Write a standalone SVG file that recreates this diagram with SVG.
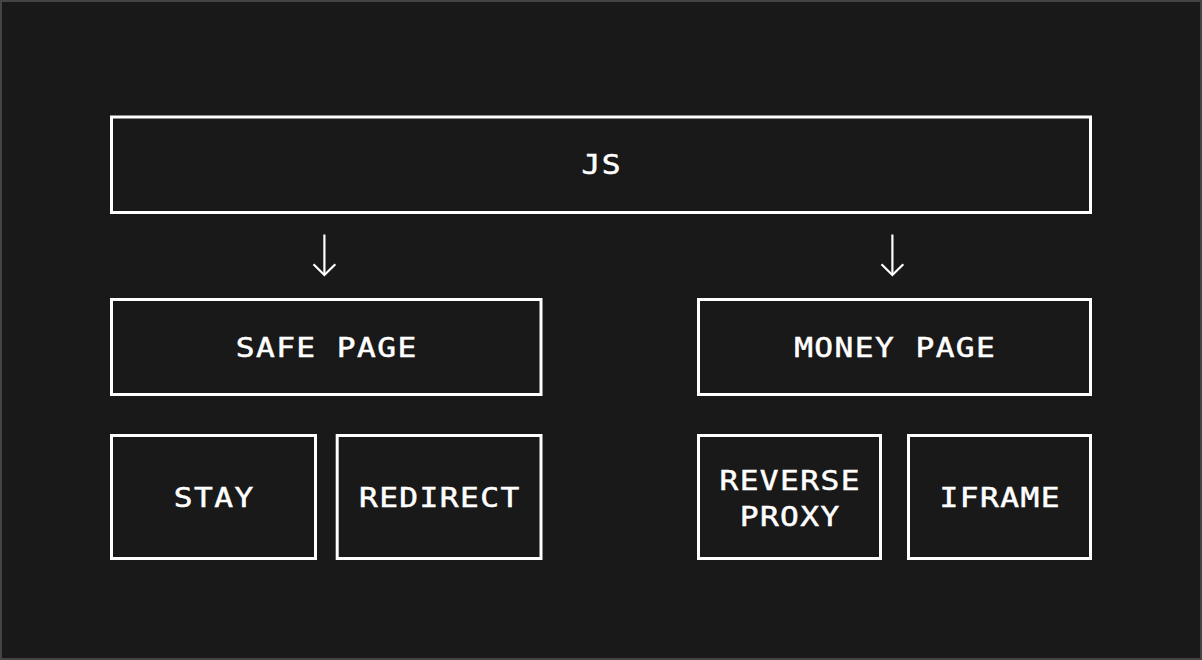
<svg xmlns="http://www.w3.org/2000/svg" width="1202" height="660" viewBox="0 0 1202 660">
<style>
.box{fill:none;stroke:#ffffff;stroke-width:3}
.lbl{fill:#ffffff;stroke:#ffffff;stroke-width:0.5;font-family:"DejaVu Sans Mono","Liberation Mono",monospace;font-weight:normal;font-size:26px;letter-spacing:1.2px;text-anchor:middle}
.arr{fill:none;stroke:#ffffff;stroke-width:2.2;stroke-linecap:butt;stroke-linejoin:miter}
</style>
<rect x="1" y="1" width="1200" height="658" fill="#191919" stroke="#444444" stroke-width="2"/>
<g id="js">
<rect class="box" x="111.5" y="117" width="979" height="95.5"/>
<text class="lbl" transform="translate(601.7,174) scale(1.2,1)">JS</text>
</g>
<g id="safe-page">
<rect class="box" x="111.5" y="299.5" width="429.5" height="95"/>
<text class="lbl" transform="translate(326.7,357) scale(1.2,1)">SAFE PAGE</text>
</g>
<g id="money-page">
<rect class="box" x="698.5" y="299.5" width="392" height="95"/>
<text class="lbl" transform="translate(895.2,357) scale(1.2,1)">MONEY PAGE</text>
</g>
<g id="stay">
<rect class="box" x="111.5" y="435.5" width="204" height="123"/>
<text class="lbl" transform="translate(214.2,507) scale(1.2,1)">STAY</text>
</g>
<g id="redirect">
<rect class="box" x="337.2" y="435.5" width="203.8" height="123"/>
<text class="lbl" transform="translate(439.8,507) scale(1.2,1)">REDIRECT</text>
</g>
<g id="reverse-proxy">
<rect class="box" x="698.5" y="435.5" width="182" height="123"/>
<text class="lbl" transform="translate(790.2,489.5) scale(1.2,1)">REVERSE</text>
<text class="lbl" transform="translate(790.2,526) scale(1.2,1)">PROXY</text>
</g>
<g id="iframe">
<rect class="box" x="908.5" y="435.5" width="182" height="123"/>
<text class="lbl" transform="translate(1000.2,507) scale(1.2,1)">IFRAME</text>
</g>
<g id="connectors">
<path class="arr" d="M324.4 234.5 V275"/>
<path class="arr" d="M313.5 264.3 L324.4 275 L335.3 264.3"/>
<path class="arr" d="M892.4 234.5 V275"/>
<path class="arr" d="M881.5 264.3 L892.4 275 L903.3 264.3"/>
</g>
</svg>
